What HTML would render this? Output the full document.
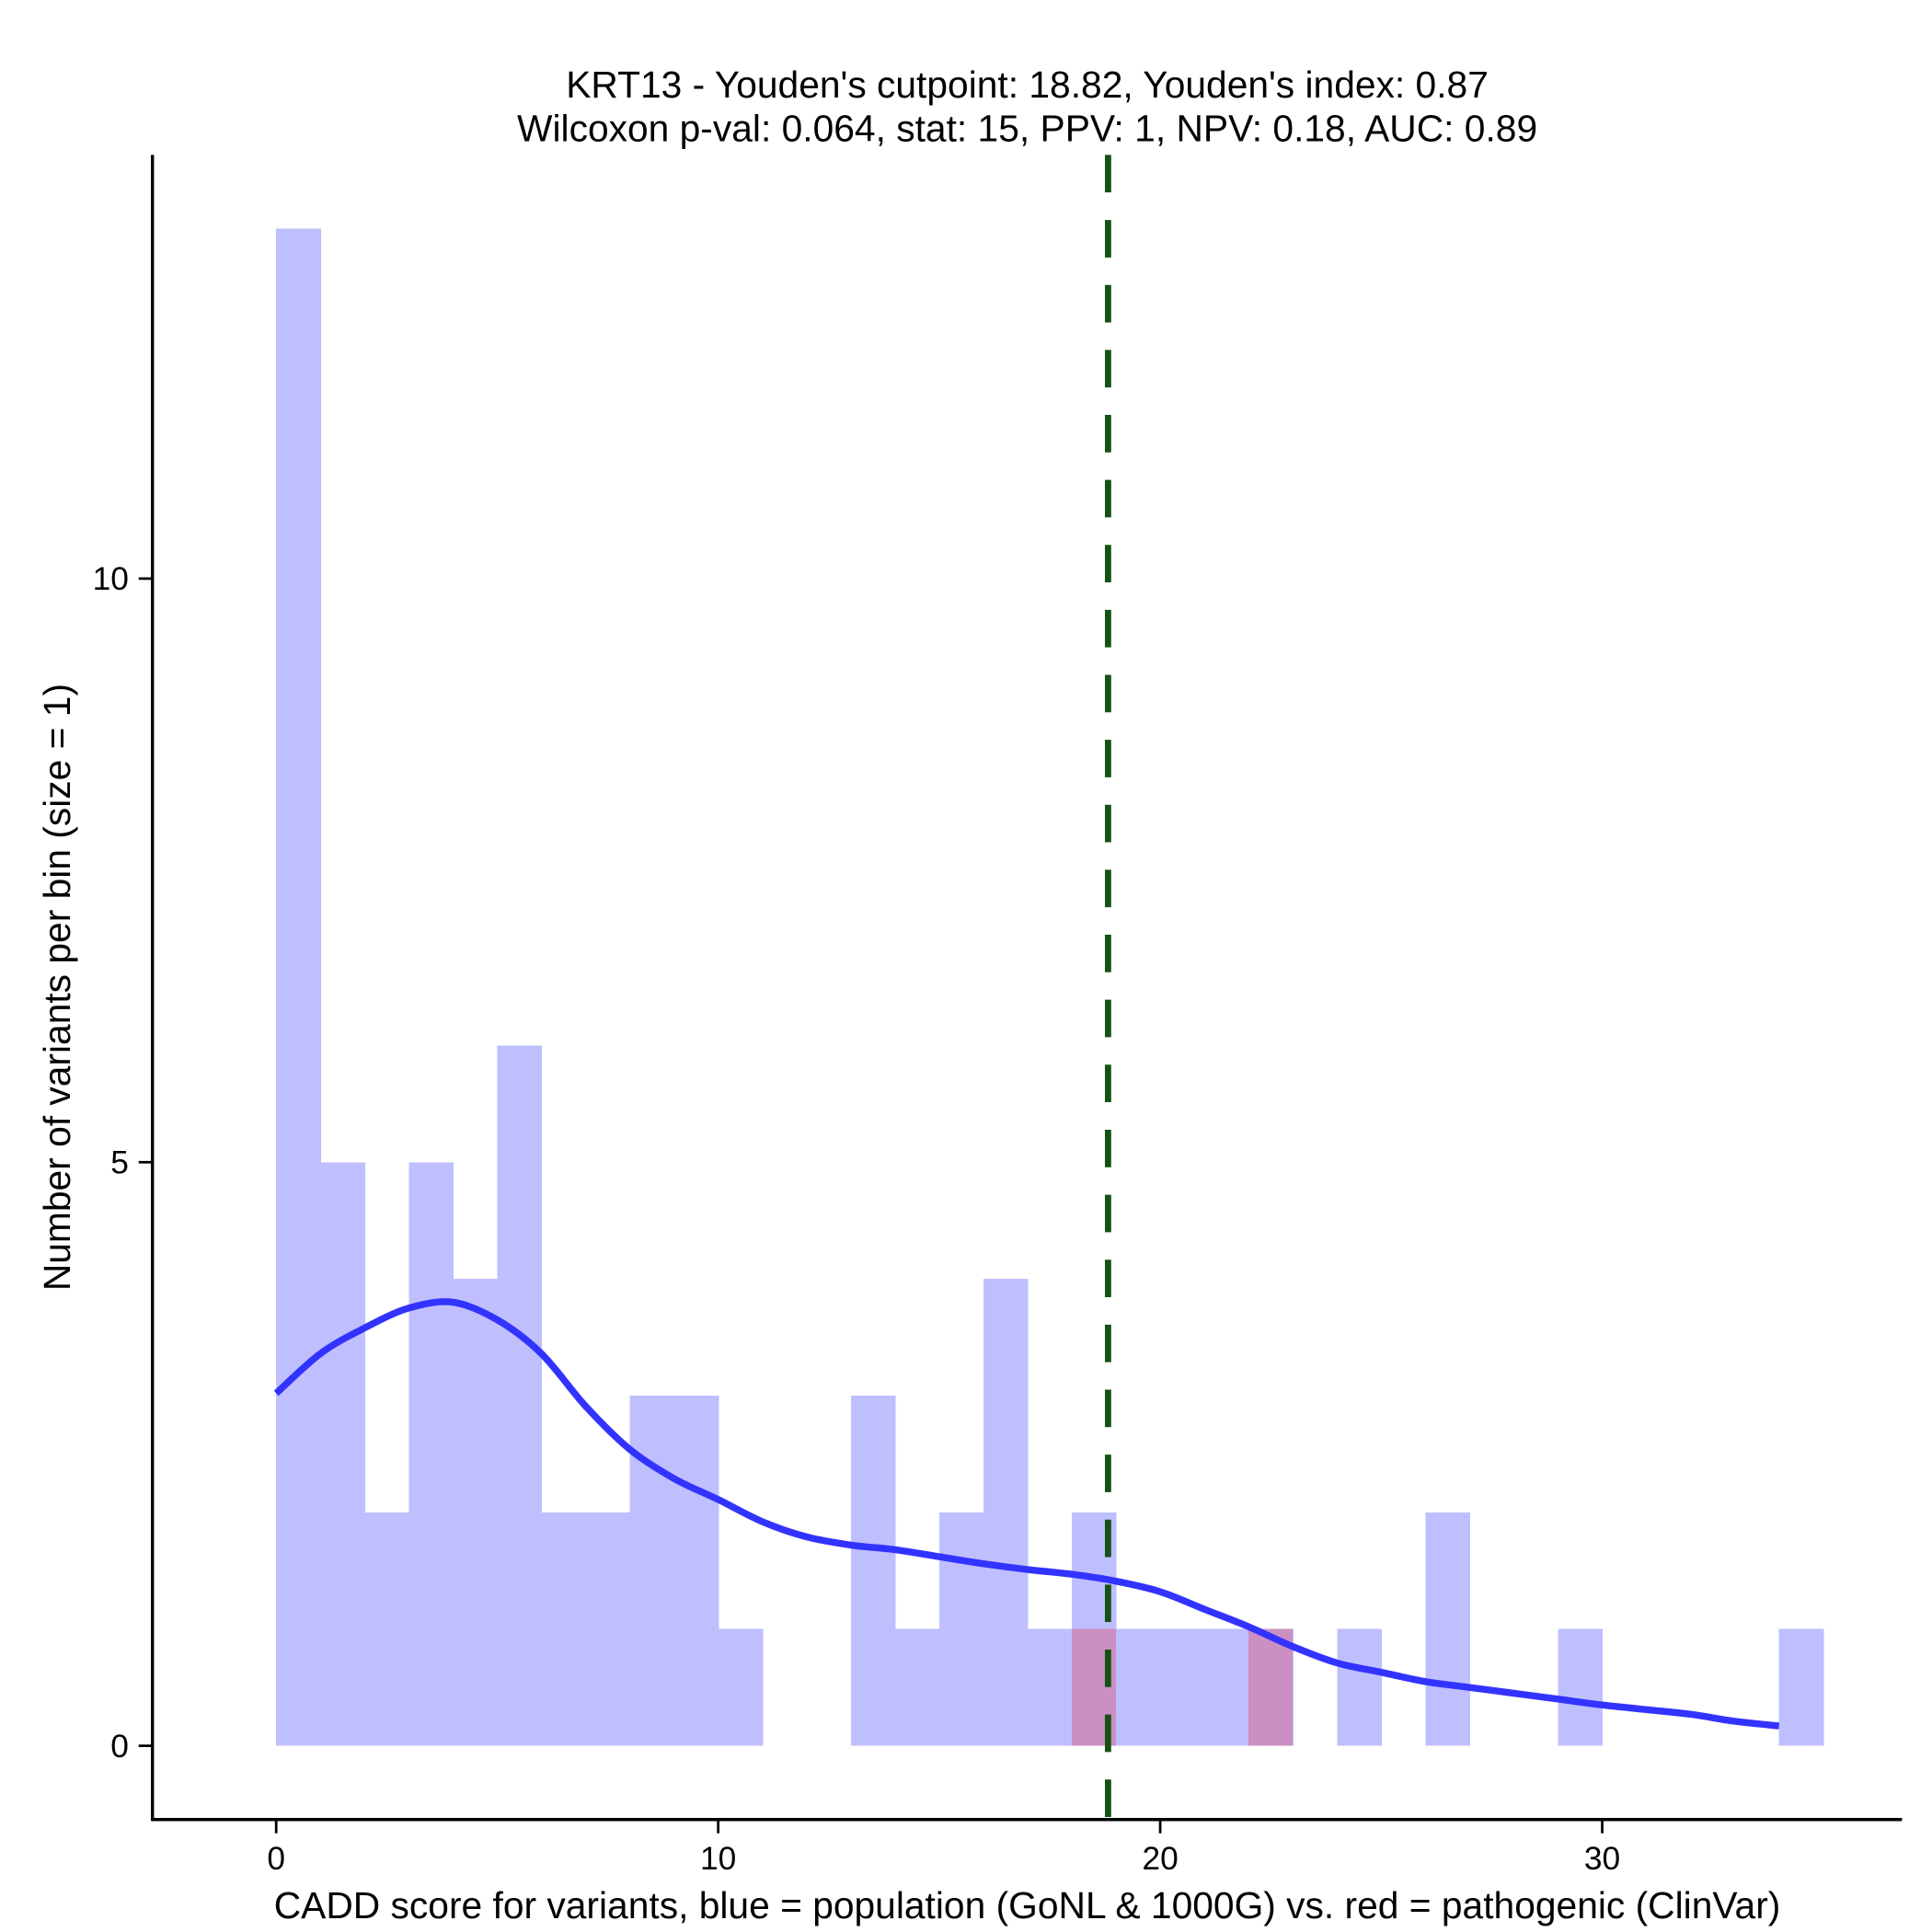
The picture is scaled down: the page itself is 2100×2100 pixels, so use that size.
<!DOCTYPE html>
<html><head><meta charset="utf-8"><style>
html,body{margin:0;padding:0;background:#fff;}
svg{display:block;font-family:"Liberation Sans",Arial,sans-serif;}
</style></head><body>
<svg id="chart" width="2100" height="2100" viewBox="0 0 1546 1546" xmlns="http://www.w3.org/2000/svg">
<rect width="1546" height="1546" fill="#fff"/>
<text x="822" y="78" font-size="30" text-anchor="middle">KRT13 - Youden's cutpoint: 18.82, Youden's index: 0.87</text>
<text x="822" y="113" font-size="30" text-anchor="middle">Wilcoxon p-val: 0.064, stat: 15, PPV: 1, NPV: 0.18, AUC: 0.89</text>
<g id="bars" shape-rendering="crispEdges"></g>
<g id="redbars" shape-rendering="crispEdges"></g>
<path id="density" fill="none" stroke="#3333ff" stroke-width="5.5" stroke-linejoin="round"/>
<line id="cut" stroke="#145214" stroke-width="5" stroke-dasharray="30,22"/>
<line x1="122" y1="124" x2="122" y2="1457" stroke="#000" stroke-width="2.5"/>
<line x1="121" y1="1456" x2="1522" y2="1456" stroke="#000" stroke-width="2.5"/>
<g id="xticks"></g><g id="yticks"></g>
<text x="822" y="1535" font-size="30" text-anchor="middle">CADD score for variants, blue = population (GoNL &amp; 1000G) vs. red = pathogenic (ClinVar)</text>
<text transform="translate(56,790) rotate(-90)" font-size="30" text-anchor="middle">Number of variants per bin (size = 1)</text>
</svg>
<script>
const blueCounts=[13,5,2,5,4,6,2,2,3,3,1,0,0,3,1,2,4,1,2,1,1,1,1,0,1,0,2,0,0,1,0,0,0,0,1];
const redBins=[18,22];
const redCounts=[1,1];
const densX=[0,1,2,3,4,5,6,7,8,9,10,11,12,13,14,15,16,17,18,19,20,21,22,23,24,25,26,27,28,29,30,31,32,33,34];
const densY=[3.02,3.36,3.58,3.75,3.8,3.65,3.36,2.91,2.54,2.29,2.11,1.92,1.79,1.72,1.68,1.62,1.56,1.51,1.47,1.41,1.32,1.17,1.02,0.85,0.71,0.63,0.55,0.5,0.45,0.4,0.35,0.31,0.27,0.21,0.17];
const xTicks=[0,10,20,30];
const yTicks=[0,5,10];
const cutpoint=18.82;
const NS="http://www.w3.org/2000/svg";
const X=v=>221+v*35.37;
const Y=v=>1397-v*93.4;
function mk(t,a,p){const e=document.createElementNS(NS,t);for(const k in a)e.setAttribute(k,a[k]);p.appendChild(e);return e;}
const bars=document.getElementById('bars');
blueCounts.forEach((c,i)=>{if(!c)return;
const r=mk('rect',{x:X(i),y:Y(c),width:X(i+1)-X(i)+0.5,height:Y(0)-Y(c),fill:'#bfbfff'},bars);

});
const rb=document.getElementById('redbars');
redBins.forEach((b,i)=>{
const r=mk('rect',{x:X(b),y:Y(redCounts[i]),width:X(b+1)-X(b),height:Y(0)-Y(redCounts[i]),fill:'#cc8fc2'},rb);

});
// smooth curve (Catmull-Rom) through the density points
const P=densX.map((x,i)=>[X(x),Y(densY[i])]);
let d='M'+P[0][0]+','+P[0][1];
for(let i=0;i<P.length-1;i++){const p0=P[Math.max(0,i-1)],p1=P[i],p2=P[i+1],p3=P[Math.min(P.length-1,i+2)];
d+='C'+(p1[0]+(p2[0]-p0[0])/6)+','+(p1[1]+(p2[1]-p0[1])/6)+' '+(p2[0]-(p3[0]-p1[0])/6)+','+(p2[1]-(p3[1]-p1[1])/6)+' '+p2[0]+','+p2[1];}
document.getElementById('density').setAttribute('d',d);
const cut=document.getElementById('cut');
cut.setAttribute('x1',X(cutpoint));cut.setAttribute('x2',X(cutpoint));cut.setAttribute('y1',124);cut.setAttribute('y2',1456);
const xt=document.getElementById('xticks');
xTicks.forEach(v=>{mk('line',{x1:X(v),x2:X(v),y1:1456,y2:1467,stroke:'#000','stroke-width':2},xt);
const t=mk('text',{x:X(v),y:1496,'font-size':26,'text-anchor':'middle'},xt);t.textContent=v;

});
const yt=document.getElementById('yticks');
yTicks.forEach(v=>{mk('line',{x1:111,x2:122,y1:Y(v),y2:Y(v),stroke:'#000','stroke-width':2},yt);
const t=mk('text',{x:103,y:Y(v)+9,'font-size':26,'text-anchor':'end'},yt);t.textContent=v;

});
</script>
</body></html>
